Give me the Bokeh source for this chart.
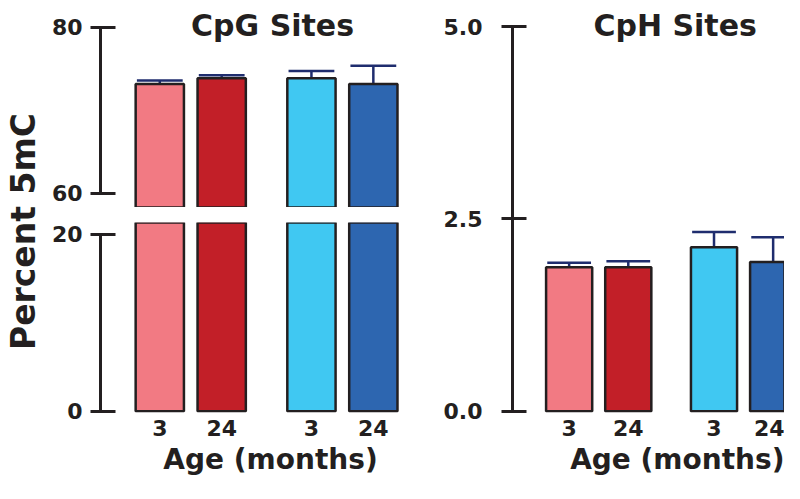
from bokeh.plotting import figure
from bokeh.layouts import row, column
from bokeh.models import Range1d, FixedTicker, PrintfTickFormatter, ColumnDataSource, Title
from bokeh.core.properties import value
from bokeh.embed import file_html
from bokeh.resources import INLINE

# ---------------- data ----------------
groups = ["Female", "Female", "Male", "Male"]
ages = ["3", "24", "3", "24"]
cpg_mean = [73.2, 73.9, 73.9, 73.2]
cpg_sem = [0.4, 0.35, 0.85, 2.2]
cph_mean = [1.87, 1.87, 2.13, 1.94]
cph_sem = [0.06, 0.08, 0.20, 0.32]
cpg_upper_ticks = [60, 80]
cpg_lower_ticks = [0, 20]
cph_ticks = [0, 2.5, 5]
titles = ["CpG Sites", "CpH Sites"]
y_label = "Percent 5mC"
x_label = "Age (months)"

# ---------------- style ----------------
colors = ["#F27A83", "#C21F28", "#40C8F2", "#2D66B0"]
FONT = "DejaVu Sans"
INK = "#231F20"
ERR = "#1F2D6E"
BAR_W = 0.78
CAP_HW = 0.37
GROUP_GAP = 0.45

group_order = list(dict.fromkeys(groups))
xpos = [i + GROUP_GAP * group_order.index(g) for i, g in enumerate(groups)]
xmid = sum(xpos) / len(xpos)


def make_fig(width, height, xr, yr, mb, x_axis=True):
    kw = dict(width=width, height=height, x_range=xr, y_range=yr,
              output_backend="svg", toolbar_location=None)
    if not x_axis:
        kw["x_axis_location"] = None
    p = figure(**kw)
    p.grid.visible = False
    p.outline_line_color = None
    p.background_fill_color = "white"
    p.border_fill_color = "white"
    p.min_border_left, p.min_border_right, p.min_border_top, p.min_border_bottom = mb
    return p


def style_yaxis(ax, ticks, bounds, tin, tout, standoff, fmt=None):
    ax.ticker = FixedTicker(ticks=ticks, minor_ticks=[])
    ax.bounds = bounds
    ax.axis_line_width = 3
    ax.axis_line_color = INK
    ax.major_tick_line_width = 3
    ax.major_tick_line_color = INK
    ax.major_tick_in = tin
    ax.major_tick_out = tout
    ax.minor_tick_line_color = None
    ax.major_label_standoff = standoff
    ax.major_label_text_font = FONT
    ax.major_label_text_font_style = "bold"
    ax.major_label_text_font_size = "22px"
    ax.major_label_text_color = INK
    if fmt is not None:
        ax.formatter = fmt


def style_xaxis(p, align, offset):
    ax = p.xaxis[0]
    ax.ticker = FixedTicker(ticks=xpos, minor_ticks=[])
    ax.major_label_overrides = {x: a for x, a in zip(xpos, ages)}
    ax.axis_line_color = None
    ax.major_tick_line_color = None
    ax.minor_tick_line_color = None
    ax.major_tick_out = 0
    ax.major_tick_in = 0
    ax.major_label_standoff = 7
    ax.major_label_text_font = FONT
    ax.major_label_text_font_style = "bold"
    ax.major_label_text_font_size = "22px"
    ax.major_label_text_color = INK
    t = Title(text=x_label, align=align, offset=offset, standoff=5,
              text_font=FONT, text_font_style="bold", text_font_size="28px",
              text_color=INK)
    p.add_layout(t, "below")


def draw_bars(p, means, sems, errors=True):
    src = ColumnDataSource(dict(x=xpos, top=means, color=colors,
                                etop=[m + s for m, s in zip(means, sems)],
                                cl=[x - CAP_HW for x in xpos],
                                cr=[x + CAP_HW for x in xpos]))
    if errors:
        p.segment(x0="x", y0="top", x1="x", y1="etop", source=src,
                  line_color=ERR, line_width=2.5)
        p.segment(x0="cl", y0="etop", x1="cr", y1="etop", source=src,
                  line_color=ERR, line_width=2.5)
    p.vbar(x="x", top="top", bottom=0, width=BAR_W, source=src,
           fill_color="color", line_color=INK, line_width=2.5)


def add_title(p, text, x_off, y_top, y_off):
    p.text(x=[xmid], y=[y_top], text=[text], x_offset=x_off, y_offset=y_off,
           text_align="center", text_baseline="alphabetic",
           text_font=value(FONT), text_font_style="bold",
           text_font_size=value("30px"), text_color=INK)


# ---------- y label strip ----------
lab = make_fig(45, 483, Range1d(0, 1), Range1d(0, 1), (0, 0, 0, 21), x_axis=False)
la = lab.yaxis[0]
la.ticker = FixedTicker(ticks=[], minor_ticks=[])
la.axis_line_color = None
la.major_tick_line_color = None
la.minor_tick_line_color = None
la.major_tick_out = 0
la.major_tick_in = 0
la.major_label_standoff = 0
la.axis_label = y_label
la.axis_label_standoff = 0
la.axis_label_text_font = FONT
la.axis_label_text_font_style = "bold"
la.axis_label_text_font_size = "33px"
la.axis_label_text_color = INK

# ---------- CpG (broken axis) ----------
xr_left = Range1d(-0.958, 4.535)
up_range = Range1d(58.313, 83.253)
f_up = make_fig(395, 207, xr_left, up_range, (55, 0, 0, 0), x_axis=False)
style_yaxis(f_up.yaxis[0], cpg_upper_ticks, (cpg_upper_ticks[0], cpg_upper_ticks[-1]), 15, 10, 8)
draw_bars(f_up, cpg_mean, cpg_sem)
add_title(f_up, titles[0], 6, up_range.end, 25)

f_low = make_fig(395, 276, xr_left, Range1d(-0.147, 21.322), (55, 0, 15, 71))
style_yaxis(f_low.yaxis[0], cpg_lower_ticks, (cpg_lower_ticks[0], cpg_lower_ticks[-1]), 15, 10, 8)
style_xaxis(f_low, "center", 8)
draw_bars(f_low, cpg_mean, cpg_sem, errors=False)

# ---------- CpH ----------
r_range = Range1d(-0.017, 5.338)
f_r = make_fig(344, 483, Range1d(-0.958, 3.642), r_range, (68, 0, 0, 71))
style_yaxis(f_r.yaxis[0], cph_ticks, (cph_ticks[0], cph_ticks[-1]), 14, 11, 19,
            fmt=PrintfTickFormatter(format="%.1f"))
style_xaxis(f_r, "right", 0)
draw_bars(f_r, cph_mean, cph_sem)
add_title(f_r, titles[1], 4, r_range.end, 25)

layout = row(column(lab), column(f_up, f_low, spacing=0), column(f_r), spacing=0)

open("out.html", "w").write(file_html(layout, INLINE))
